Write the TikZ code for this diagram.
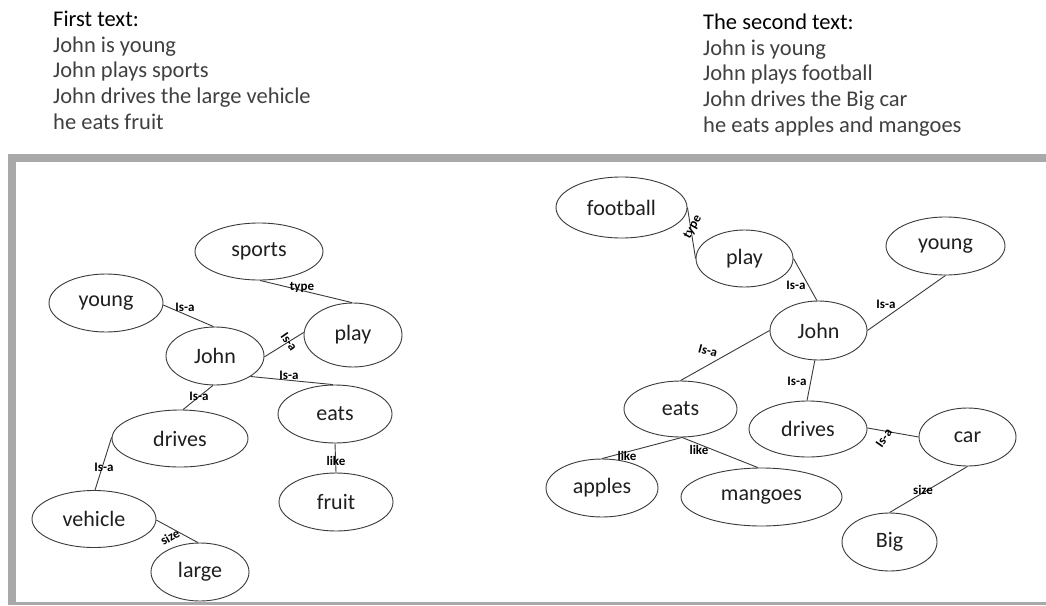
\documentclass[tikz,border=0pt]{standalone}
\usepackage{fontspec}
\setmainfont{Carlito}
\usetikzlibrary{shapes.geometric}
\definecolor{txtgray}{HTML}{404040}
\definecolor{linegray}{HTML}{3A3A3A}
\definecolor{framegray}{HTML}{A9A9A9}
\tikzset{
  ell/.style={ellipse, draw=linegray, line width=0.9pt, inner sep=0pt, text=black!88,
    font=\fontsize{22}{26}\selectfont},
  conn/.style={draw=linegray, line width=0.9pt},
  lbl/.style={font=\bfseries\fontsize{13}{15}\selectfont, inner sep=0pt, text=black},
  hdr/.style={anchor=base west, inner sep=0pt, font=\fontsize{22.5}{26}\selectfont, text=txtgray},
  hdrtitle/.style={hdr, text=black}
}
\begin{document}
\begin{tikzpicture}[x=1pt,y=-1pt]
\useasboundingbox (0,0) rectangle (1046,605);
% frame
\fill[framegray] (8,154) rectangle (1046,605);
\fill[white] (16,161.5) rectangle (1046,601.5);

% header texts
\node[hdrtitle] (h1) at (53,26) {First text:};
\node[hdr] (h2) at (53,52) {John is young};
\node[hdr] (h3) at (53,77.5) {John plays sports};
\node[hdr] (h4) at (53,103) {John drives the large vehicle};
\node[hdr] (h5) at (53,129) {he eats fruit};

\node[hdrtitle] (k1) at (703,29) {The second text:};
\node[hdr] (k2) at (703,55) {John is young};
\node[hdr] (k3) at (703,80.5) {John plays football};
\node[hdr] (k4) at (703,106) {John drives the Big car};
\node[hdr] (k5) at (703,132) {he eats apples and mangoes};

% ---------- left graph ----------
\node[ell, minimum width=128pt, minimum height=57pt] (sports) at (259,251.5) {sports};
\node[ell, minimum width=114pt, minimum height=58pt] (youngA) at (106,303) {young};
\node[ell, minimum width=98pt, minimum height=64pt] (playA) at (353,335) {play};
\node[ell, minimum width=98pt, minimum height=58pt] (johnA) at (215,356) {John};
\node[ell, minimum width=114pt, minimum height=58pt] (eatsA) at (335,414) {eats};
\node[ell, minimum width=136pt, minimum height=57pt] (drivesA) at (180,438.5) {drives};
\node[ell, minimum width=114pt, minimum height=58pt] (fruit) at (336,502) {fruit};
\node[ell, minimum width=124pt, minimum height=57pt] (vehicle) at (94,519) {vehicle};
\node[ell, minimum width=98pt, minimum height=58pt] (large) at (200,572) {large};

\draw[conn] (youngA.-2) -- (johnA.93);
\draw[conn] (sports.-88) -- (playA.92);
\draw[conn] (johnA.-1) -- (playA.177);
\draw[conn] (johnA.-30) -- (eatsA.94);
\draw[conn] (johnA.-94) -- (drivesA.84);
\draw[conn] (drivesA.179) -- (vehicle.88);
\draw[conn] (eatsA.-90) -- (fruit.90);
\draw[conn] (vehicle.-1) -- (large.94);

\node[lbl] (la1) at (185,307) {Is-a};
\node[lbl] (la2) at (302,287.5) {type};
\node[lbl, rotate=-55] (la3) at (289,342) {Is-a};
\node[lbl] (la4) at (289,375.5) {Is-a};
\node[lbl] (la5) at (199,396) {Is-a};
\node[lbl] (la6) at (104,467.5) {Is-a};
\node[lbl] (la7) at (336,460.5) {like};
\node[lbl, rotate=30] (la8) at (170,537) {size};

% ---------- right graph ----------
\node[ell, minimum width=131pt, minimum height=61pt] (football) at (621.5,207.5) {football};
\node[ell, minimum width=97pt, minimum height=57pt] (playB) at (744.5,258.5) {play};
\node[ell, minimum width=119pt, minimum height=58pt] (youngB) at (945.5,246) {young};
\node[ell, minimum width=97pt, minimum height=59pt] (johnB) at (818.5,330.5) {John};
\node[ell, minimum width=113pt, minimum height=56pt] (eatsB) at (680.5,409) {eats};
\node[ell, minimum width=118pt, minimum height=56pt] (drivesB) at (808,429) {drives};
\node[ell, minimum width=97pt, minimum height=58pt] (car) at (967.5,437) {car};
\node[ell, minimum width=112pt, minimum height=58pt] (apples) at (602,488) {apples};
\node[ell, minimum width=161pt, minimum height=58pt] (mangoes) at (761.5,497) {mangoes};
\node[ell, minimum width=95pt, minimum height=58pt] (big) at (889.5,542) {Big};

\draw[conn] (football.0) -- (playB.180);
\draw[conn] (playB.0) -- (johnB.93);
\draw[conn] (johnB.0) -- (youngB.-90);
\draw[conn] (johnB.180) -- (eatsB.90);
\draw[conn] (johnB.-97) -- (drivesB.92);
\draw[conn] (eatsB.-87) -- (apples.90);
\draw[conn] (eatsB.-87) -- (mangoes.97);
\draw[conn] (drivesB.1) -- (car.180);
\draw[conn] (car.-90) -- (big.90);

\node[lbl, rotate=60] (lb1) at (693,227) {type};
\node[lbl] (lb2) at (796,285) {Is-a};
\node[lbl] (lb3) at (886,304) {Is-a};
\node[lbl, rotate=-15] (lb4) at (708,351) {Is-a};
\node[lbl] (lb5) at (797,381) {Is-a};
\node[lbl] (lb6) at (627,456) {like};
\node[lbl] (lb7) at (699,450) {like};
\node[lbl, rotate=55] (lb8) at (884,438) {Is-a};
\node[lbl] (lb9) at (923,490) {size};
\end{tikzpicture}
\end{document}
